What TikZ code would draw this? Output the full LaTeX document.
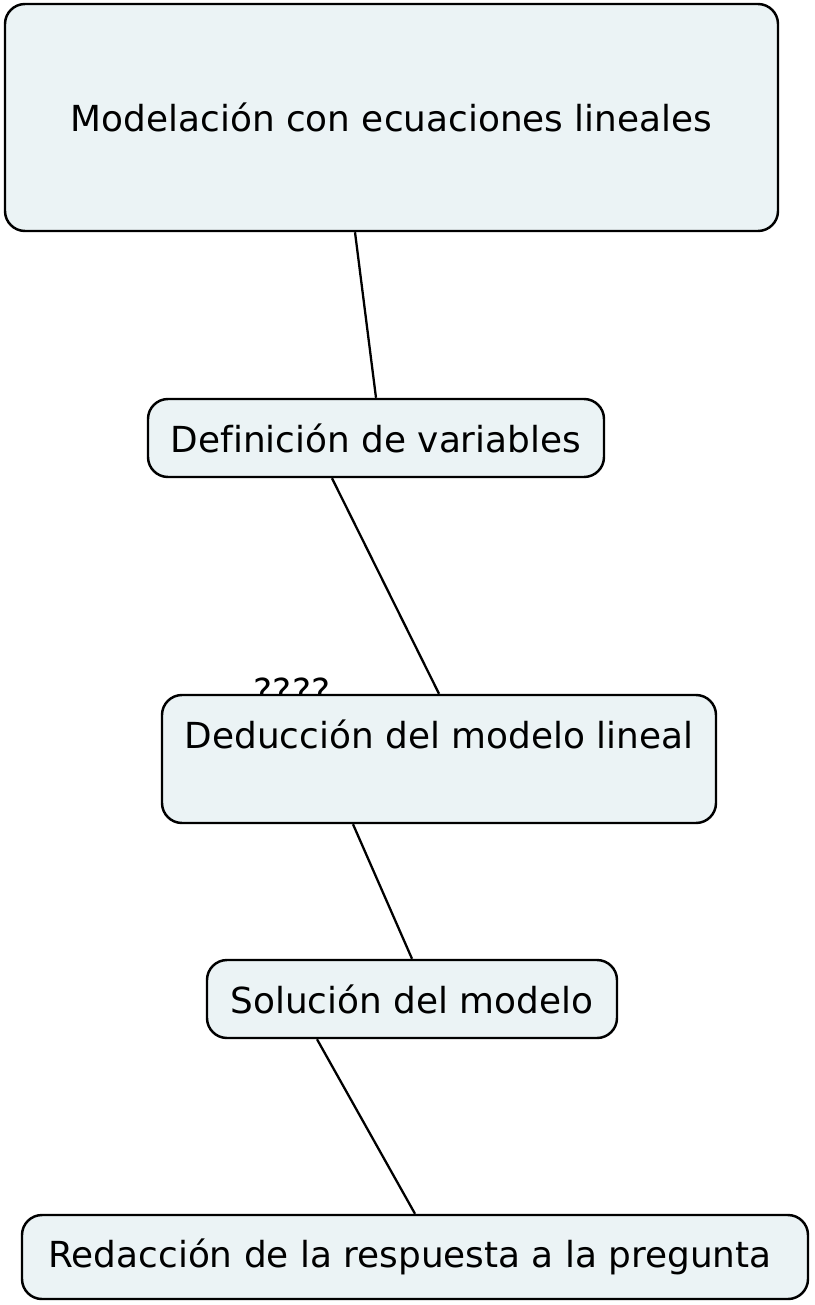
\documentclass[tikz,border=0pt]{standalone}
\usepackage{fontspec}
\setmainfont{DejaVu Sans}[Ligatures=NoCommon]
\usetikzlibrary{positioning}
\definecolor{boxfill}{RGB}{235,243,245}
\tikzset{
  concept/.style={draw, line width=1.4pt, rounded corners=0.4cm, fill=boxfill,
    inner sep=0pt, align=center},
  link/.style={line width=1.3pt},
}

\begin{document}
\begin{tikzpicture}[font=\fontsize{20.4}{24}\selectfont]
      \useasboundingbox (0,0) rectangle (16.28,-26.1);
      % linking phrase, partly hidden behind the box
      \node[anchor=base] (hint) at (5.84,-14.08) {????};

      \node[concept,minimum width=15.46cm,minimum height=4.54cm] (mod) at (7.83,-2.35)  {Modelación con ecuaciones lineales};
      \node[concept,minimum width=9.12cm,minimum height=1.56cm]  (def) at (7.52,-8.76)  {Definición de variables};
      \node[concept,minimum width=11.08cm,minimum height=2.56cm] (ded) at (8.78,-15.18) {Deducción del modelo lineal\\[4pt] \mbox{}};
      \node[concept,minimum width=8.2cm,minimum height=1.56cm]   (sol) at (8.24,-19.98) {Solución del modelo};
      \node[concept,minimum width=15.72cm,minimum height=1.68cm] (red) at (8.3,-25.14)  {Redacción de la respuesta a la pregunta\hspace{0.2cm}};

      \draw[link] ([xshift=-0.73cm]mod.south) -- (def.north)
                  ([xshift=-0.88cm]def.south) -- (ded.north)
                  ([xshift=-1.72cm]ded.south) -- (sol.north)
                  ([xshift=-1.9cm]sol.south)  -- (red.north);
\end{tikzpicture}
\end{document}
